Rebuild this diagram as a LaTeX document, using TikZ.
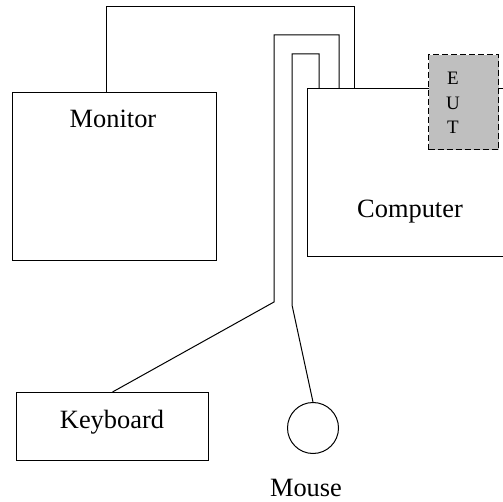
\documentclass[tikz,border=0pt]{standalone}
\usepackage{fontspec}
\setmainfont{Liberation Serif}
\usetikzlibrary{positioning,calc}

\begin{document}
\begin{tikzpicture}[x=1pt, y=-1pt, line width=1pt,
    box/.style={draw, rectangle, inner sep=0pt},
    caption/.style={font=\fontsize{26.4}{30}\selectfont, inner sep=0pt, anchor=base},
    cable/.style={draw, line width=1pt}]
    \useasboundingbox (0,0) rectangle (503,502);
    \clip (0,0) rectangle (503,502);

    % Monitor
    \node[box, minimum width=204pt, minimum height=168pt, anchor=north west] (monitor) at (12,92) {};
    \node[caption] (monitortext) at (113,128) {Monitor};

    % Computer, running past the right edge
    \node[box, minimum width=230pt, minimum height=168pt, anchor=north west] (computer) at (307,88) {};
    \node[caption] (computertext) at (410,218) {Computer};

    % EUT on top of the computer
    \node[box, fill=gray!50, dash pattern=on 6pt off 3pt, line width=1.4pt,
          minimum width=70pt, minimum height=95pt, anchor=north west] (eut) at (428,54) {};
    \node[font=\fontsize{19}{24.5}\selectfont, align=center, inner sep=0pt] (euttext) at (453,103) {E\\U\\T};

    % Keyboard and mouse
    \node[box, minimum width=192pt, minimum height=68pt, anchor=north west] (keyboard) at (16,392) {};
    \node[caption] (keyboardtext) at (112,428) {Keyboard};
    \node[draw, circle, minimum size=51pt, inner sep=0pt] (mouse) at (313,428) {};
    \node[caption] (mousetext) at (306,496) {Mouse};

    % Ports on the computer
    \coordinate (monport) at (106,92);
    \coordinate (pcport1) at (354,88);
    \coordinate (pcport2) at (339,89);
    \coordinate (pcport3) at (319,88);

    % Cables
    \draw[cable] (monport) -- (106,7) -| (pcport1);
    \draw[cable] (keyboard.north) -- (274,302) -- (274,35) -| (pcport2);
    \draw[cable] (mouse.north) -- (292,305) -- (292,54) -| (pcport3);
\end{tikzpicture}
\end{document}
